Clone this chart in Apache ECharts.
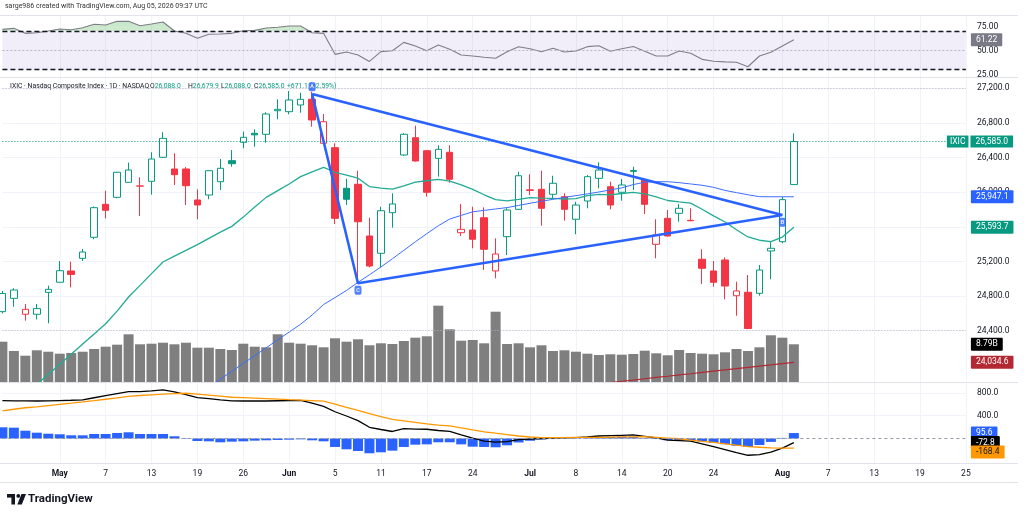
<!DOCTYPE html>
<html><head><meta charset="utf-8">
<script src="https://cdn.jsdelivr.net/npm/echarts@6/dist/echarts.min.js"></script>
<style>html,body{margin:0;padding:0;background:#fff}#c{width:1024px;height:516px}</style>
</head><body><div id="c"></div>
<script>
// ---------- DATA ----------
const dates = ['2026-04-24','2026-04-27','2026-04-28','2026-04-29','2026-04-30','2026-05-01','2026-05-04','2026-05-05','2026-05-06','2026-05-07',
'2026-05-08','2026-05-11','2026-05-12','2026-05-13','2026-05-14','2026-05-15','2026-05-18','2026-05-19','2026-05-20','2026-05-21',
'2026-05-22','2026-05-26','2026-05-27','2026-05-28','2026-05-29','2026-06-01','2026-06-02','2026-06-03','2026-06-04','2026-06-05',
'2026-06-08','2026-06-09','2026-06-10','2026-06-11','2026-06-12','2026-06-15','2026-06-16','2026-06-17','2026-06-18','2026-06-22',
'2026-06-23','2026-06-24','2026-06-25','2026-06-26','2026-06-29','2026-06-30','2026-07-01','2026-07-02','2026-07-06','2026-07-07',
'2026-07-08','2026-07-09','2026-07-10','2026-07-13','2026-07-14','2026-07-15','2026-07-16','2026-07-17','2026-07-20','2026-07-21',
'2026-07-22','2026-07-23','2026-07-24','2026-07-27','2026-07-28','2026-07-29','2026-07-30','2026-07-31','2026-08-03','2026-08-04',
'2026-08-05','2026-08-06','2026-08-07','2026-08-10','2026-08-11','2026-08-12','2026-08-13','2026-08-14','2026-08-17','2026-08-18',
'2026-08-19','2026-08-20','2026-08-21','2026-08-24','2026-08-25'];

const tickLabels = {'2026-05-01':'May','2026-05-07':'7','2026-05-13':'13','2026-05-19':'19','2026-05-26':'26',
'2026-06-01':'Jun','2026-06-05':'5','2026-06-11':'11','2026-06-17':'17','2026-06-24':'24',
'2026-07-01':'Jul','2026-07-08':'8','2026-07-14':'14','2026-07-20':'20','2026-07-24':'24',
'2026-08-03':'Aug','2026-08-07':'7','2026-08-13':'13','2026-08-19':'19','2026-08-25':'25'};
const monthLabels = ['May','Jun','Jul','Aug'];

const open  = [24620,24774,24590,24590,24843,24960,25090,25236,25479,25860, 25941,26114,26070,26126,26403,26268,26268,25910,25967,26121,
26364,26576,26680,26669,26941,26930,27007,27073,26565,26514, 26045,26091,25494,25294,25763,26430,26629,26479,26391,26461,
25532,25563,25705,25090,25486,25802,26020,26033,25976,25948, 25687,25898,26160,26063,25999,26240,26141,25398,25698,25756,
25675,25225,25090,25217,24804,24844,24832,25321,25428,26088];
const high  = [24860,24890,24708,24708,24920,25205,25197,25344,25835,26017, 26235,26341,26172,26461,26692,26449,26290,26033,26252,26383,
26487,26699,26726,26923,27073,27169,27149,27160,26903,26565, 26156,26248,25705,25832,25987,26682,26768,26487,26542,26542,
25864,25832,25825,25467,25814,26237,26207,26248,26190,25987, 25890,26198,26345,26121,26152,26294,26152,25687,25794,25864,
25814,25340,25205,25248,24966,25043,25159,25428,25948,26679.9];
const low   = [24600,24677,24516,24530,24486,24955,24901,25205,25456,25698, 25930,26110,25725,25971,26395,26083,25852,25687,25918,26025,
26294,26507,26525,26572,26842,26900,26918,26756,26560,25632, 25852,24955,25132,25132,25590,26418,26355,25948,26179,26110,
25494,25352,25101,25005,25274,25794,25967,25613,25921,25671, 25514,25814,26045,25802,25902,26025,25748,25236,25486,25659,
25665,24940,24908,24763,24573,24418,24804,24994,25410,26088];
const close = [24830,24870,24647,24655,24878,25093,25050,25309,25821,25791, 26230,26256,26072,26383,26622,26202,26075,25852,26248,26276,
26329,26634,26662,26903,26957,27065,27073,26834,26814,25698, 25918,25659,25147,25786,25864,26669,26360,25999,26495,26149,
25571,25456,25340,25286,25794,26190,26028,25814,26103,25802, 25852,26179,26256,25852,26083,26250,25860,25506,25494,25814,
25670,25121,24959,24916,24859,24425,25101,25352,25913.9,26585];
// volume in billions
const volume = [9.40,7.23,6.13,7.39,7.06,6.60,6.76,7.06,7.69,8.23, 8.70,11.12,8.79,8.93,9.16,8.79,9.16,8.00,8.00,7.69,
7.46,8.93,8.23,8.09,11.12,9.16,8.93,8.56,8.09,10.19, 9.40,9.96,8.56,9.02,8.86,9.56,10.33,10.66,17.79,12.29,
9.63,9.79,9.02,16.39,8.86,9.02,8.09,8.56,7.23,7.39, 7.06,6.60,6.30,6.46,6.37,6.53,7.30,6.69,6.23,7.46,
6.76,6.60,6.46,6.92,7.69,7.23,8.09,10.89,10.33,8.79];
const smaGreen = [23430,23545,23660,23780,23895,24012,24129,24246,24363,24480, 24626,24789,24924,25059,25193,25261,25327,25394,25467,25539,
25605,25712,25828,25940,26018,26095,26180,26235,26286,26230, 26197,26161,26065,26048,26035,26073,26116,26132,26147,26127,
26084,26033,25970,25914,25899,25917,25936,25932,25929,25921, 25925,25960,25975,25969,25985,25998,25981,25947,25904,25887,
25873,25803,25726,25655,25566,25483,25445,25429,25481,25593.7];
const smaBlue = [null,null,null,null,null,null,null,null,null,null, null,null,null,null,null,null,23570,23660,23750,23840,
23931,24022,24112,24203,24294,24384,24475,24581,24702,24783, 24865,24958,25046,25136,25231,25328,25427,25521,25612,25690,
25732,25773,25790,25806,25822,25847,25872,25895,25918,25940, 25960,25980,26002,26026,26050,26088,26115,26121,26121,26110,
26095,26080,26056,26020,25995,25970,25948,25947,25947,25947.1];
const smaRed = [null,null,null,null,null,null,null,null,null,null, null,null,null,null,null,null,null,null,null,null,
null,null,null,null,null,null,null,null,null,null, null,null,null,null,null,null,null,null,null,null,
null,null,null,null,null,null,null,null,null,null, null,null,23787,23801,23816,23830,23845,23860,23874,23889,
23903,23918,23933,23947,23962,23976,23991,24005,24020,24034.6];
const rsi = [72.0,73.1,67.9,68.5,70.3,72.4,71.7,73.8,77.3,76.6, 80.4,80.4,75.8,77.6,79.7,70.3,67.9,62.7,66.9,67.2,
67.9,70.6,71.0,73.4,74.2,75.5,75.5,68.5,67.9,46.0, 48.4,45.3,38.6,48.8,49.8,58.5,54.7,49.8,55.7,51.3,
45.3,44.3,42.9,41.9,48.8,54.0,51.9,48.8,52.3,48.4, 49.5,54.0,55.0,49.2,51.9,54.2,49.2,44.3,44.3,49.5,
47.1,40.8,38.8,38.2,37.7,33.1,44.3,48.1,54.7,61.22];
const macd = [664,662,660,659,662,667,672,680,716,752, 788,823,823,836,853,819,771,720,700,680,
661,659,659,659,663,667,670,620,565,470, 395,315,197,158,123,172,165,162,140,125,
62,5,-46,-65,-55,-20,-10,0,6,11, 14,28,44,50,56,62,38,10,-28,-36,
-48,-95,-144,-195,-250,-295,-285,-240,-170,-72.8];
const signal = [485,514,540,555,577,599,620,642,665,690, 714,740,756,768,780,789,795,781,763,745,
725,717,709,701,693,684,676,667,658,603, 548,493,439,385,337,311,284,258,236,220,
186,151,118,93,69,44,26,16,15,16, 18,20,21,24,27,29,31,20,8,-5,
-28,-50,-70,-93,-118,-142,-154,-166,-168,-168.4];
const hist = [197,190,137,102,84,74,56,56,79,79, 97,109,79,79,79,39,9,-44,-50,-67,
-56,-50,-38,-32,-26,-21,-15,-32,-50,-149, -190,-220,-260,-243,-214,-149,-109,-103,-67,-67,
-103,-144,-149,-155,-120,-70,-40,-18,-10,-5, 2,12,22,28,32,30,10,-10,-30,-32,
-35,-50,-75,-100,-128,-150,-115,-60,10,95.6];
const rsiTicks = [25, 50, 75];
const priceTicks = [24400, 24800, 25200, 25600, 26000, 26400, 26800, 27200];
const macdTicks = [400, 800];
const triangle = [['2026-06-03',27134],['2026-06-09',24948],['2026-08-03',25736],['2026-06-03',27134]];
const patternMarks = [['2026-06-03',27218,'A'],['2026-06-09',24867,'C'],['2026-08-03',25652,'B']];

// ---------- HELPERS ----------
const N = dates.length;
const pad = a => a.concat(new Array(N - a.length).fill(null));
function fmt(v, d){ const s = Math.abs(v).toFixed(d); const p = s.split('.'); return (v<0?'-':'') + p[0].replace(/\B(?=(\d{3})+(?!\d))/g, ',') + (p[1]?'.'+p[1]:''); }
const TEAL = '#089981', RED = '#f23645', BLUE = '#2962ff', FONT = 'Roboto', TXT = '#131722';
const last = close.length - 1;

const candles = open.map((o,i)=>{
  const c = close[i], prev = i>0 ? close[i-1] : o;
  const col = c >= prev ? TEAL : RED;
  const fill = c > o ? '#ffffff' : col;
  return {value:[o, c, low[i], high[i]], itemStyle:{color:fill, color0:fill, borderColor:col, borderColor0:col, borderWidth:1}};
});
while (candles.length < N) candles.push('-');

const isTick = i => tickLabels[dates[i]] !== undefined;
function xAx(gi, showLabel, showSplit){
  return {type:'category', gridIndex:gi, data:dates, boundaryGap:false,
    axisLine:{show:false}, axisTick:{show:false},
    axisLabel:{show:showLabel, interval:(i)=>isTick(i), margin:6, fontSize:8.5, color:TXT, fontFamily:FONT,
      formatter:(v)=>{const t = tickLabels[v]||''; return monthLabels.indexOf(t)>=0 ? '{b|'+t+'}' : t;},
      rich:{b:{fontWeight:'bold', fontSize:8.5, color:TXT, fontFamily:FONT}}},
    splitLine:{show:showSplit, interval:(i)=>isTick(i), lineStyle:{color:'#f0f3fa', width:1}}};
}
function yAx(gi, min, max, ticks, f, split){
  return {type:'value', gridIndex:gi, position:'right', min:min, max:max,
    axisLine:{show:false},
    axisTick:{show:false, customValues: ticks || undefined},
    axisLabel:{show:!!ticks, customValues: ticks || undefined, formatter:f, margin:11, fontSize:8.5, color:TXT, fontFamily:FONT},
    splitLine:{show:!!split, lineStyle:{color:'#f0f3fa', width:1}}};
}
function box(val, text, bg, fg, dy){
  return {yAxis: val, lineStyle:{color:'rgba(0,0,0,0)', width:1, type:'solid'},
    label:{show:true, position:'end', distance:5, formatter:text, backgroundColor:bg, color:fg, opacity:1,
      padding:[2,5,1,5], fontSize:8.5, fontFamily:FONT, lineHeight:10, borderRadius:1, offset:[0, dy||0]}};
}
const mlBase = {symbol:['none','none'], silent:true, animation:false};

const L = 2.4, R = 58.1;
const option = {
  animation:false,
  backgroundColor:'#ffffff',
  grid:[
    {left:L, right:R, top:15, height:62},
    {left:L, right:R, top:15, height:16.3},
    {left:L, right:R, top:77, height:305},
    {left:L, right:R, top:77, height:305},
    {left:L, right:R, top:382, height:81}
  ],
  xAxis:[xAx(0,false,true), xAx(1,false,false), xAx(2,false,true), xAx(3,false,false), xAx(4,true,true)],
  yAxis:[
    yAx(0, 22.4, 87.0, rsiTicks, v=>v.toFixed(2), false),
    yAx(1, 70, 87.0, null, null, false),
    yAx(2, 23807.4, 27330.5, priceTicks, v=>fmt(v,1), true),
    yAx(3, 0, 71.1, null, null, false),
    yAx(4, -431, 993, macdTicks, v=>fmt(v,1), true)
  ],
  series:[
    {type:'line', name:'RSI', xAxisIndex:0, yAxisIndex:0, data:pad(rsi), symbol:'none', z:3,
      lineStyle:{color:'#7e7e86', width:1.1}, itemStyle:{color:'#7e7e86'},
      markArea:{silent:true, itemStyle:{color:'rgba(126,87,194,0.1)'}, data:[[{yAxis:30},{yAxis:70}]]},
      markLine:Object.assign({}, mlBase, {data:[
        {yAxis:70, lineStyle:{type:[5,3], color:'#131722', width:1.3}, label:{show:false}},
        {yAxis:30, lineStyle:{type:[5,3], color:'#131722', width:1.3}, label:{show:false}},
        {yAxis:50, lineStyle:{type:[2,2], color:'#b2b5be', width:1}, label:{show:false}},
        box(rsi[last], rsi[last].toFixed(2), '#787b86', '#ffffff')
      ]})},
    {type:'line', name:'RSIfill', xAxisIndex:1, yAxisIndex:1, data:pad(rsi), symbol:'none', z:2,
      lineStyle:{width:0}, areaStyle:{origin:'start', color:new echarts.graphic.LinearGradient(0,0,0,1,[
        {offset:0, color:'rgba(76,175,80,0.45)'},{offset:1, color:'rgba(76,175,80,0.06)'}])}},
    {type:'bar', name:'Volume', xAxisIndex:3, yAxisIndex:3, data:pad(volume), barWidth:10, z:1,
      itemStyle:{color:'#7f7f7f'},
      markLine:Object.assign({}, mlBase, {data:[box(volume[last], volume[last].toFixed(2)+'B', '#000000', '#ffffff')]})},
    {type:'candlestick', name:'IXIC', xAxisIndex:2, yAxisIndex:2, data:candles, barWidth:7, z:3,
      markLine:Object.assign({}, mlBase, {data:[
        {yAxis:27200, lineStyle:{type:[1,2], color:'#b2b5be', width:1}, label:{show:false}},
        {yAxis:24400, lineStyle:{type:[1,2], color:'#b2b5be', width:1}, label:{show:false}},
        {yAxis:close[last], lineStyle:{type:[1,2], color:TEAL, width:1},
          label:{show:true, position:'end', distance:5, offset:[-24,0],
            formatter:'{n|IXIC}{g| }{v|'+fmt(close[last],1)+'}',
            rich:{n:{backgroundColor:TEAL, color:'#fff', padding:[2,3,1,3], fontSize:8.5, fontFamily:FONT, lineHeight:10},
                  g:{width:2, fontSize:8},
                  v:{backgroundColor:TEAL, color:'#fff', padding:[2,5,1,5], fontSize:8.5, fontFamily:FONT, lineHeight:10}}}}
      ]})},
    {type:'line', name:'SMA green', xAxisIndex:2, yAxisIndex:2, data:pad(smaGreen), symbol:'none', z:4,
      lineStyle:{color:'#22ab94', width:1.3},
      markLine:Object.assign({}, mlBase, {data:[box(smaGreen[last], fmt(smaGreen[last],1), TEAL, '#fff')]})},
    {type:'line', name:'SMA blue', xAxisIndex:2, yAxisIndex:2, data:pad(smaBlue), symbol:'none', z:4,
      lineStyle:{color:'#3d6dff', width:1},
      markLine:Object.assign({}, mlBase, {data:[box(smaBlue[last], fmt(smaBlue[last],1), BLUE, '#fff')]})},
    {type:'line', name:'SMA red', xAxisIndex:2, yAxisIndex:2, data:pad(smaRed), symbol:'none', z:4,
      lineStyle:{color:'#b22833', width:1.2},
      markLine:Object.assign({}, mlBase, {data:[box(smaRed[last], fmt(smaRed[last],1), '#b22833', '#fff')]})},
    {type:'line', name:'Triangle', xAxisIndex:2, yAxisIndex:2, data:triangle, symbol:'none', z:6,
      lineStyle:{color:BLUE, width:2.6}},
    {type:'scatter', name:'Marks', xAxisIndex:2, yAxisIndex:2, data:patternMarks, symbol:'roundRect', symbolSize:[7,9], z:7,
      itemStyle:{color:BLUE},
      label:{show:true, position:'inside', formatter:p=>p.data[2], color:'#fff', fontSize:6, fontFamily:FONT, fontWeight:'bold'}},
    {type:'bar', name:'Histogram', xAxisIndex:4, yAxisIndex:4, data:pad(hist), barWidth:10, z:2,
      itemStyle:{color:BLUE},
      markLine:Object.assign({}, mlBase, {data:[
        {yAxis:0, lineStyle:{type:[3,3], color:'#9598a1', width:1}, label:{show:false}},
        box(hist[last], fmt(hist[last],1), BLUE, '#fff')
      ]})},
    {type:'line', name:'MACD', xAxisIndex:4, yAxisIndex:4, data:pad(macd), symbol:'none', z:3,
      lineStyle:{color:'#000000', width:1.3},
      markLine:Object.assign({}, mlBase, {data:[box(macd[last], fmt(macd[last],1), '#000000', '#fff')]})},
    {type:'line', name:'Signal', xAxisIndex:4, yAxisIndex:4, data:pad(signal), symbol:'none', z:3,
      lineStyle:{color:'#ff9800', width:1.3},
      markLine:Object.assign({}, mlBase, {data:[box(signal[last], fmt(signal[last],1), '#ff9800', TXT, 4)]})}
  ],
  graphic:[
    {type:'text', left:5, top:3, style:{text:'sarge986 created with TradingView.com, Aug 05, 2026 09:37 UTC', fontSize:7, fontFamily:FONT, fill:'#333'}},
    {type:'text', left:10, top:83, z:1, style:{text:'IXIC · Nasdaq Composite Index · 1D · NASDAQ', fontSize:6.8, fontFamily:FONT, fill:TXT}},
    {type:'text', left:150, top:83, z:1, style:{text:'{l|O}{v|'+fmt(open[last],1)+'}', rich:{l:{fill:TXT,fontSize:6.8,fontFamily:FONT},v:{fill:TEAL,fontSize:6.8,fontFamily:FONT}}}},
    {type:'text', left:188, top:83, z:1, style:{text:'{l|H}{v|'+fmt(high[last],1)+'}', rich:{l:{fill:TXT,fontSize:6.8,fontFamily:FONT},v:{fill:TEAL,fontSize:6.8,fontFamily:FONT}}}},
    {type:'text', left:221, top:83, z:1, style:{text:'{l|L}{v|'+fmt(low[last],1)+'}', rich:{l:{fill:TXT,fontSize:6.8,fontFamily:FONT},v:{fill:TEAL,fontSize:6.8,fontFamily:FONT}}}},
    {type:'text', left:254, top:83, z:1, style:{text:'{l|C}{v|'+fmt(close[last],1)+'}', rich:{l:{fill:TXT,fontSize:6.8,fontFamily:FONT},v:{fill:TEAL,fontSize:6.8,fontFamily:FONT}}}},
    {type:'text', left:287, top:83, z:1, style:{text:'+'+fmt(close[last]-close[last-1],1)+' (+'+((close[last]-close[last-1])/close[last-1]*100).toFixed(2)+'%)', fontSize:6.8, fontFamily:FONT, fill:TEAL}},
    {type:'line', shape:{x1:0,y1:15.5,x2:1018,y2:15.5}, style:{stroke:'#e0e3eb', lineWidth:1}, z:10},
    {type:'line', shape:{x1:0,y1:77.5,x2:1018,y2:77.5}, style:{stroke:'#e0e3eb', lineWidth:1}, z:10},
    {type:'line', shape:{x1:0,y1:382.5,x2:1018,y2:382.5}, style:{stroke:'#e0e3eb', lineWidth:1}, z:10},
    {type:'line', shape:{x1:0,y1:463.5,x2:1018,y2:463.5}, style:{stroke:'#e0e3eb', lineWidth:1}, z:10},
    {type:'line', shape:{x1:0,y1:482.5,x2:1018,y2:482.5}, style:{stroke:'#e0e3eb', lineWidth:1}, z:10},
    {type:'group', left:7, top:494, children:[
      {type:'rect', shape:{x:0,y:0,width:8,height:3.6}, style:{fill:TXT}},
      {type:'rect', shape:{x:4.4,y:0,width:3.6,height:10.5}, style:{fill:TXT}},
      {type:'circle', shape:{cx:11.3,cy:1.9,r:1.9}, style:{fill:TXT}},
      {type:'polygon', shape:{points:[[14.5,0],[19,0],[14.8,10.5],[10.3,10.5]]}, style:{fill:TXT}}
    ]},
    {type:'text', left:28, top:493, style:{text:'TradingView', fontSize:11.5, fontWeight:'bold', fontFamily:FONT, fill:TXT}}
  ]
};
const chart = echarts.init(document.getElementById('c'));
chart.setOption(option);
</script>
</body></html>
